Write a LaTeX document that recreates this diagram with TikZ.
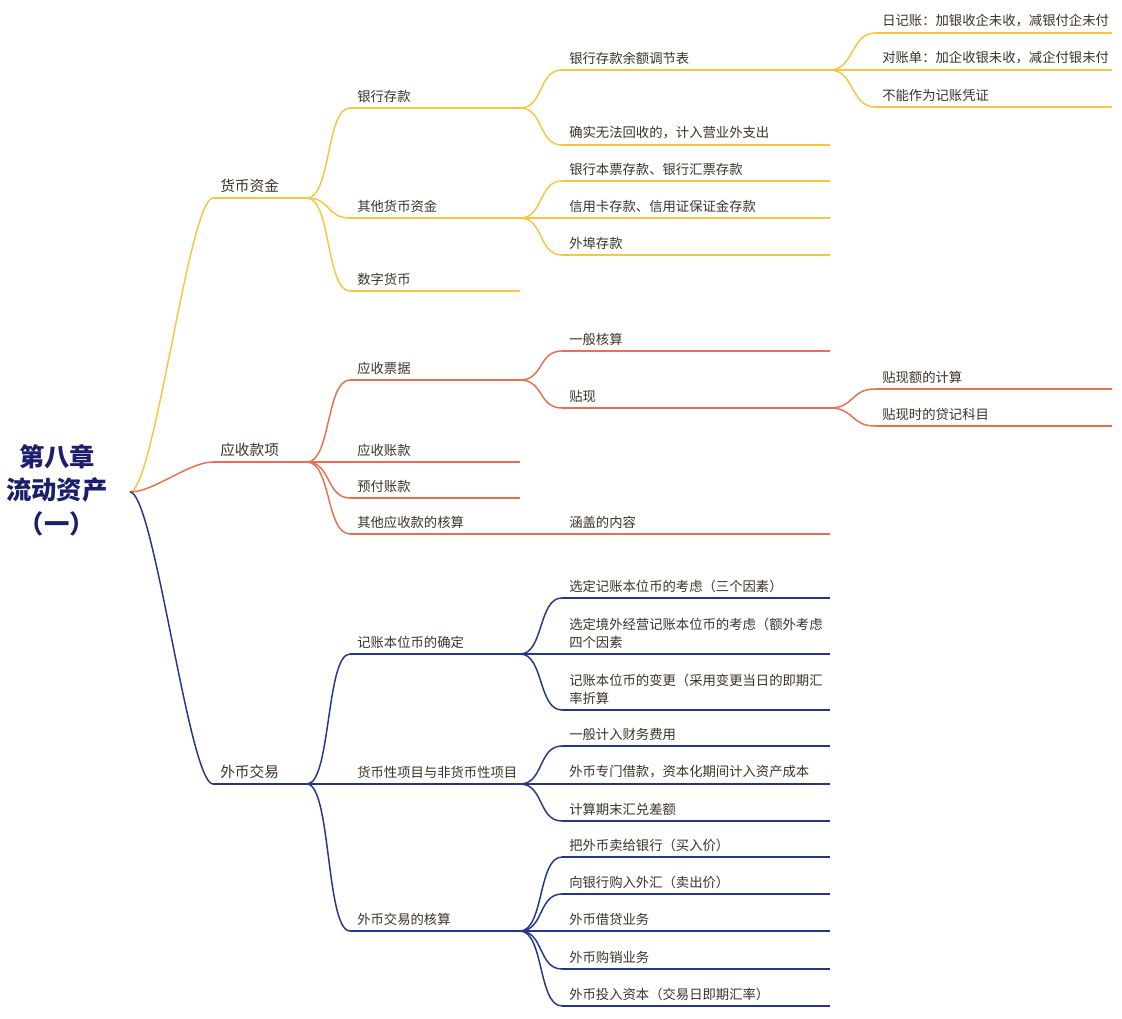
\documentclass[tikz,border=0pt]{standalone}
\usepackage{fontspec}
\setmainfont{Noto Sans CJK SC}
\definecolor{mapyellow}{HTML}{F9C440}
\definecolor{mapred}{HTML}{E8704F}
\definecolor{mapblue}{HTML}{24358C}
\definecolor{maptext}{HTML}{3A3226}
\definecolor{rootblue}{HTML}{1B1F6B}
\tikzset{
  moneyline/.style={draw=mapyellow, line width=1.1pt},
  recvline/.style={draw=mapred, line width=1.1pt},
  fxline/.style={draw=mapblue, line width=1.1pt},
  topictext/.style={anchor=south west, inner sep=0pt, yshift=4pt, text=maptext,
    font=\fontsize{10}{13.5}\selectfont, align=left},
}
% topic: name, line style, start x, end x, underline y, text
\newcommand\topic[6]{%
  \coordinate (#1) at (#3,#5);
  \coordinate (#1e) at (#4,#5);
  \draw[#2] (#1) -- (#1e);
  \node[topictext] (#1t) at (#3+7,#5) {#6};}
% link: line style, parent, child
\newcommand\link[3]{\draw[#1] (#2e) .. controls +(24,0) and +(-24,0) .. (#3);}
\begin{document}
\begin{tikzpicture}[x=0.75pt,y=0.75pt,yscale=-1,xscale=1]
\useasboundingbox (0,0) rectangle (1122,1019);

% root
\node[text=rootblue, font=\fontsize{19}{25}\selectfont\bfseries, align=center] (root) at (57,490) {第八章\\流动资产\\（一）};
\coordinate (roote) at (130,492);

% 货币资金
\topic{a}{moneyline}{213}{307}{198}{\fontsize{11}{13}\selectfont 货币资金}
\topic{a1}{moneyline}{350}{520}{108}{银行存款}
\topic{a11}{moneyline}{562}{830}{70}{银行存款余额调节表}
\topic{a111}{moneyline}{875}{1112}{33}{日记账：加银收企未收，减银付企未付}
\topic{a112}{moneyline}{875}{1112}{70}{对账单：加企收银未收，减企付银未付}
\topic{a113}{moneyline}{875}{1112}{107}{不能作为记账凭证}
\topic{a12}{moneyline}{562}{830}{145}{确实无法回收的，计入营业外支出}
\topic{a2}{moneyline}{350}{520}{218}{其他货币资金}
\topic{a21}{moneyline}{562}{830}{181}{银行本票存款、银行汇票存款}
\topic{a22}{moneyline}{562}{830}{218}{信用卡存款、信用证保证金存款}
\topic{a23}{moneyline}{562}{830}{255}{外埠存款}
\topic{a3}{moneyline}{350}{520}{291}{数字货币}

% 应收款项
\topic{b}{recvline}{213}{307}{462}{\fontsize{11}{13}\selectfont 应收款项}
\topic{b1}{recvline}{350}{520}{380}{应收票据}
\topic{b11}{recvline}{562}{830}{351}{一般核算}
\topic{b12}{recvline}{562}{830}{408}{贴现}
\topic{b121}{recvline}{875}{1112}{389}{贴现额的计算}
\topic{b122}{recvline}{875}{1112}{426}{贴现时的贷记科目}
\topic{b2}{recvline}{350}{520}{462}{应收账款}
\topic{b3}{recvline}{350}{520}{498}{预付账款}
\topic{b4}{recvline}{350}{520}{534}{其他应收款的核算}
\topic{b41}{recvline}{562}{830}{534}{涵盖的内容}

% 外币交易
\topic{c}{fxline}{213}{307}{784}{\fontsize{11}{13}\selectfont 外币交易}
\topic{c1}{fxline}{350}{520}{654}{记账本位币的确定}
\topic{c11}{fxline}{562}{830}{598}{选定记账本位币的考虑（三个因素）}
\topic{c12}{fxline}{562}{830}{654}{选定境外经营记账本位币的考虑（额外考虑\\四个因素}
\topic{c13}{fxline}{562}{830}{710}{记账本位币的变更（采用变更当日的即期汇\\率折算}
\topic{c2}{fxline}{350}{520}{784}{货币性项目与非货币性项目}
\topic{c21}{fxline}{562}{830}{746}{一般计入财务费用}
\topic{c22}{fxline}{562}{830}{784}{外币专门借款，资本化期间计入资产成本}
\topic{c23}{fxline}{562}{830}{821}{计算期末汇兑差额}
\topic{c3}{fxline}{350}{520}{931}{外币交易的核算}
\topic{c31}{fxline}{562}{830}{857}{把外币卖给银行（买入价）}
\topic{c32}{fxline}{562}{830}{894}{向银行购入外汇（卖出价）}
\topic{c33}{fxline}{562}{830}{931}{外币借贷业务}
\topic{c34}{fxline}{562}{830}{969}{外币购销业务}
\topic{c35}{fxline}{562}{830}{1006}{外币投入资本（交易日即期汇率）}

% connectors
\link{moneyline}{root}{a}
\link{recvline}{root}{b}
\link{fxline}{root}{c}
\foreach \p/\c in {a/a1, a/a2, a/a3, a1/a11, a1/a12, a11/a111, a11/a112, a11/a113, a2/a21, a2/a22, a2/a23}
  {\link{moneyline}{\p}{\c}}
\foreach \p/\c in {b/b1, b/b2, b/b3, b/b4, b1/b11, b1/b12, b12/b121, b12/b122, b4/b41}
  {\link{recvline}{\p}{\c}}
\foreach \p/\c in {c/c1, c/c2, c/c3, c1/c11, c1/c12, c1/c13, c2/c21, c2/c22, c2/c23, c3/c31, c3/c32, c3/c33, c3/c34, c3/c35}
  {\link{fxline}{\p}{\c}}
\end{tikzpicture}
\end{document}
